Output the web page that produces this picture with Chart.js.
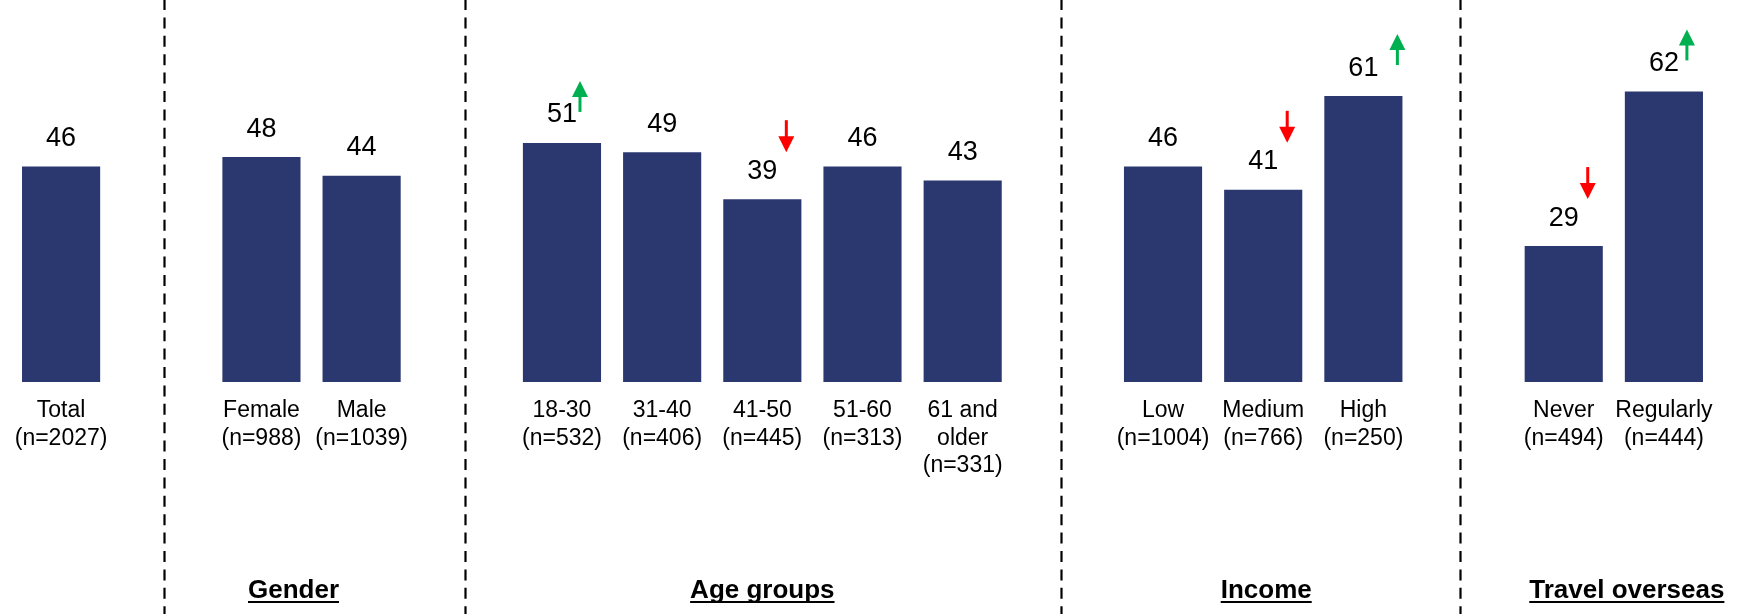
<!DOCTYPE html>
<html>
<head>
<meta charset="utf-8">
<script src="https://cdn.jsdelivr.net/npm/chart.js@4/dist/chart.umd.min.js"></script>
<style>
  html, body { margin: 0; padding: 0; background: #ffffff; }
  #wrap { width: 1737px; height: 614px; }
</style>
</head>
<body>
<div id="wrap"><canvas id="c" width="1737" height="614"></canvas></div>
<script>
// ---- data ----
const categories = [
  ['Total', '(n=2027)'], '',
  ['Female', '(n=988)'], ['Male', '(n=1039)'], '',
  ['18-30', '(n=532)'], ['31-40', '(n=406)'], ['41-50', '(n=445)'], ['51-60', '(n=313)'], ['61 and', 'older', '(n=331)'], '',
  ['Low', '(n=1004)'], ['Medium', '(n=766)'], ['High', '(n=250)'], '',
  ['Never', '(n=494)'], ['Regularly', '(n=444)']
];
const values = [46, null, 48, 44, null, 51, 49, 39, 46, 43, null, 46, 41, 61, null, 29, 62];
const significance = [null, null, null, null, null, 'up', null, 'down', null, null, null, null, 'down', 'up', null, 'down', 'up'];
const groupTitles = ['Gender', 'Age groups', 'Income', 'Travel overseas'];
const groupFirst = [2, 5, 11, 15];
const groupLast = [3, 9, 13, 16];
const separators = [1, 4, 10, 14];

// ---- styles ----
const BAR_COLOR = '#2b3870';
const UP_COLOR = '#00b050';
const DOWN_COLOR = '#ff0000';
const FONT = "'Liberation Sans', Arial, sans-serif";
const titleShift = [-18, 0, 3, 13];          // horizontal nudges of group titles
const separatorShift = [3, 3, -2, -4];       // horizontal nudges of dashed separators
const arrowShift = { 5: -5, 13: 11 };        // extra horizontal nudges of some arrows

const overlay = {
  id: 'overlay',
  beforeDatasetsDraw(chart) {
    const ctx = chart.ctx;
    const xs = chart.scales.x;
    ctx.save();
    ctx.strokeStyle = '#000';
    ctx.lineWidth = 2.2;
    ctx.setLineDash([11, 7.4]);
    separators.forEach((i, k) => {
      const x = Math.round(xs.getPixelForValue(i) + separatorShift[k]) + 0.5;
      ctx.beginPath();
      ctx.moveTo(x, -1);
      ctx.lineTo(x, 614);
      ctx.stroke();
    });
    ctx.restore();
  },
  afterDatasetsDraw(chart) {
    const ctx = chart.ctx;
    const meta = chart.getDatasetMeta(0);
    const xs = chart.scales.x;
    ctx.save();
    // value labels
    ctx.fillStyle = '#000';
    ctx.font = '27px ' + FONT;
    ctx.textAlign = 'center';
    ctx.textBaseline = 'alphabetic';
    meta.data.forEach((bar, i) => {
      const v = values[i];
      if (v === null || v === undefined) return;
      ctx.fillText(String(v), bar.x, bar.y - 20.5);
    });
    // significance arrows
    meta.data.forEach((bar, i) => {
      const s = significance[i];
      if (!s) return;
      const top = bar.y;
      const extra = arrowShift[i] || 0;
      if (s === 'up') {
        const x = bar.x + 23 + extra;
        const apex = top - 62, base = top - 46, tail = top - 31;
        ctx.fillStyle = UP_COLOR;
        ctx.fillRect(x - 1.5, base - 1, 3, tail - base + 1);
        ctx.beginPath();
        ctx.moveTo(x, apex);
        ctx.lineTo(x + 8, base);
        ctx.lineTo(x - 8, base);
        ctx.closePath();
        ctx.fill();
      } else {
        const x = bar.x + 24 + extra;
        const tail = top - 79, base = top - 63, apex = top - 47;
        ctx.fillStyle = DOWN_COLOR;
        ctx.fillRect(x - 1.5, tail, 3, base - tail + 1);
        ctx.beginPath();
        ctx.moveTo(x - 8, base);
        ctx.lineTo(x + 8, base);
        ctx.lineTo(x, apex);
        ctx.closePath();
        ctx.fill();
      }
    });
    // group titles
    ctx.fillStyle = '#000';
    ctx.strokeStyle = '#000';
    ctx.font = 'bold 26px ' + FONT;
    ctx.textAlign = 'center';
    ctx.textBaseline = 'alphabetic';
    groupTitles.forEach((t, g) => {
      const cx = (xs.getPixelForValue(groupFirst[g]) + xs.getPixelForValue(groupLast[g])) / 2 + titleShift[g];
      const y = 598;
      ctx.fillText(t, cx, y);
      const w = ctx.measureText(t).width;
      ctx.lineWidth = 2;
      ctx.beginPath();
      ctx.moveTo(cx - w / 2, y + 4);
      ctx.lineTo(cx + w / 2, y + 4);
      ctx.stroke();
    });
    ctx.restore();
  }
};

new Chart(document.getElementById('c'), {
  type: 'bar',
  data: {
    labels: categories,
    datasets: [{
      data: values,
      backgroundColor: BAR_COLOR,
      borderWidth: 0,
      categoryPercentage: 1.0,
      barPercentage: 0.78
    }]
  },
  options: {
    responsive: false,
    devicePixelRatio: 1,
    animation: false,
    layout: { padding: { left: 11, right: 23, top: 7, bottom: 0 } },
    plugins: { legend: { display: false }, tooltip: { enabled: false } },
    scales: {
      x: {
        grid: { display: false },
        border: { display: false },
        ticks: {
          autoSkip: false,
          maxRotation: 0,
          minRotation: 0,
          padding: 7,
          color: '#000',
          font: { family: FONT, size: 23, lineHeight: 1.2 }
        },
        afterFit(scale) { scale.height = 232; }
      },
      y: {
        display: false,
        min: 0,
        max: 80
      }
    }
  },
  plugins: [overlay]
});
</script>
</body>
</html>
